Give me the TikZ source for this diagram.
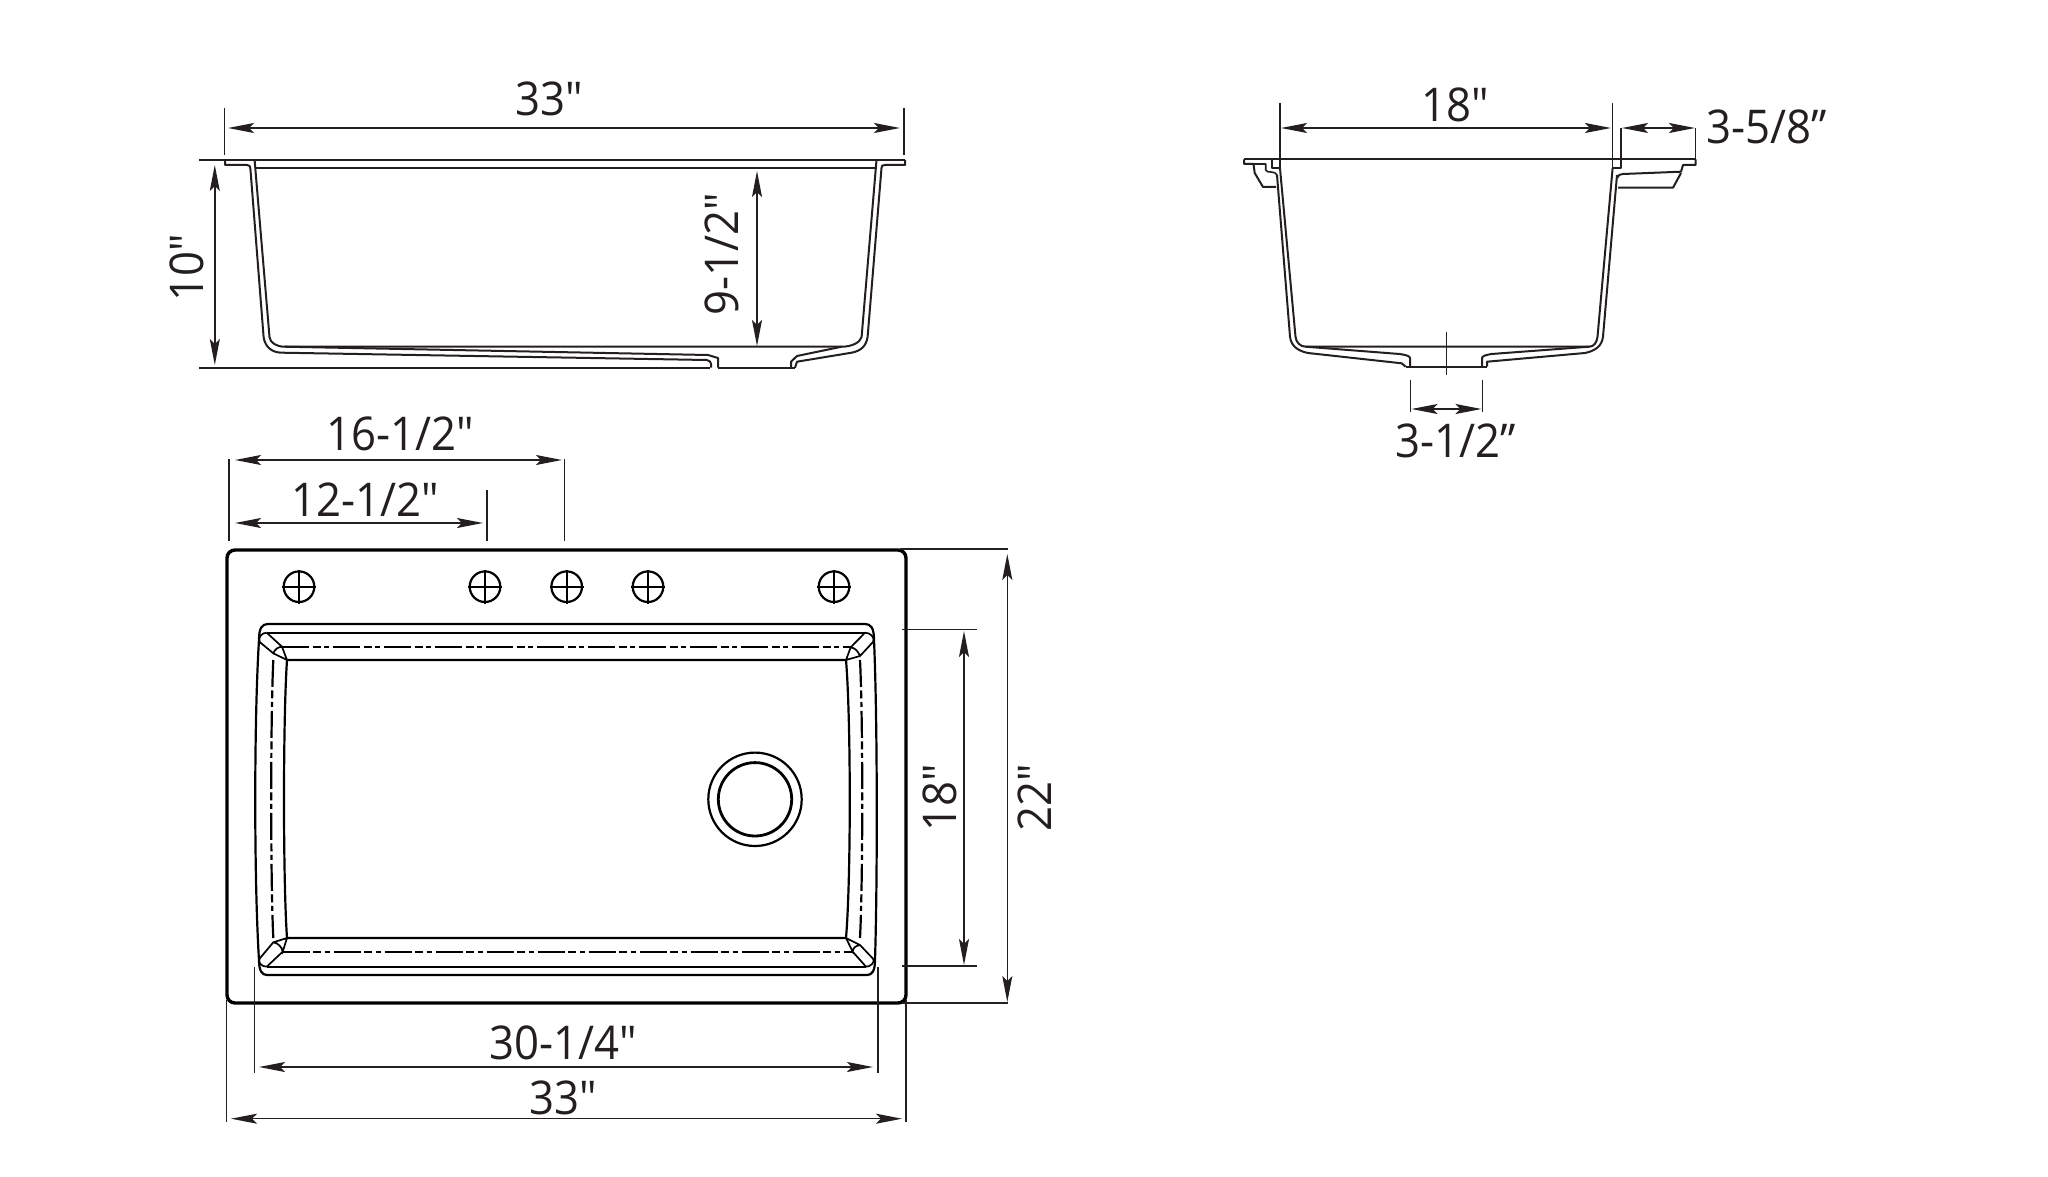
\documentclass[tikz,border=0pt]{standalone}
\usepackage{fontspec}
\setmainfont[FakeStretch=0.94]{Open Sans}
\usetikzlibrary{arrows.meta}
\definecolor{ink}{HTML}{231F20}
\tikzset{
  sinkline/.style={line width=2pt,draw=ink,line join=round},
  outline/.style={line width=3.4pt,draw=black},
  rimline/.style={line width=2.2pt,draw=black},
  thinrim/.style={line width=1.7pt,draw=black},
  centre/.style={line width=2.2pt,draw=black,dash pattern=on 27pt off 3.5pt on 8pt off 3.5pt on 5pt off 4pt},
  dimline/.style={line width=1.5pt,draw=ink,{Stealth[length=26pt,width=10pt,inset=5pt]}-{Stealth[length=26pt,width=10pt,inset=5pt]}},
  extline/.style={line width=1.5pt,draw=ink},
  lab/.style={font=\fontsize{46.5}{46.5}\selectfont,text=ink,inner sep=0pt},
  hole/.style={line width=2.2pt,draw=black},
}
\newcommand{\myhole}[3]{%
  \coordinate (#1) at (#2,#3);
  \draw[hole] (#1) circle (15.3pt);
  \draw[line width=1.7pt] (#2-17,#3) -- (#2+17,#3) (#2,#3-17) -- (#2,#3+17);
}
\begin{document}
\begin{tikzpicture}[x=1pt,y=-1pt]
\useasboundingbox (0,0) rectangle (2048,1177);
\fill[white] (0,0) rectangle (2048,1177);

% ---------- front section ----------
\draw[sinkline] (199,160) -- (905,160);
\draw[sinkline] (255,167.7) -- (876,167.7);
\draw[sinkline] (225,160) -- (225,165) -- (247,165) .. controls (250,165) and (250,166) .. (250.5,170)
  -- (263.6,337) .. controls (265,347) and (272,352.7) .. (282,352.7)
  -- (707,360) .. controls (710,361) and (711,362) .. (711,364) -- (711,367.7);
\draw[sinkline] (254.6,160) -- (269.5,337) .. controls (270,343) and (277,346.7) .. (284.5,346.7)
  -- (708,355) -- (718,358) -- (718,367.7);
\draw[sinkline] (284.5,346.7) -- (841.7,346.7) .. controls (851,346.7) and (860,343) .. (861.6,337) -- (876.5,160);
\draw[sinkline] (905,160) -- (905,165) -- (885,165) .. controls (882,165) and (881.5,166) .. (881.5,168)
  -- (867.6,337) .. controls (866,347) and (860,351) .. (851.6,352.7) -- (797,361.7) -- (795,367.7);
\draw[sinkline] (841.7,346.7) -- (797,356) -- (791,361.7) -- (791,367.7);
\draw[sinkline] (199,367.7) -- (710,367.7) (718,367.7) -- (795,367.7);

% ---------- side section ----------
\draw[sinkline] (1244,159.3) -- (1695.5,159.3);
\draw[sinkline] (1244,159.3) -- (1244,164) -- (1253.5,164) -- (1254.7,173) -- (1263,187) -- (1276,187);
\draw[sinkline,line width=1.6pt] (1253.5,164) -- (1265.7,164) -- (1265.7,170) .. controls (1266,172) and (1269,172) .. (1271,172) .. controls (1274,172) and (1276,173) .. (1277,175);
\draw[sinkline,line width=1.6pt] (1272,160) -- (1272,168.3) -- (1280,168.3) -- (1280,160);
\draw[sinkline,line width=1.6pt] (1612.6,160) -- (1612.6,168.3) -- (1621,168.3) -- (1621,160);
\draw[sinkline] (1277,175) -- (1290,336.7) .. controls (1291,346) and (1298,351) .. (1308,353)
  -- (1401.6,363.3) -- (1405.7,366.7);
\draw[sinkline] (1280,168.3) -- (1295.5,336.7) .. controls (1296,342) and (1300,346.7) .. (1305.7,346.7)
  -- (1399.6,354) .. controls (1406,355) and (1410,356) .. (1410,358) -- (1410,366.7);
\draw[sinkline] (1305.7,346.7) -- (1589.4,346.7) .. controls (1594,346.7) and (1597,342) .. (1597.5,336.7) -- (1612.6,168.3);
\draw[sinkline] (1405.7,366.7) -- (1487,366.7);
\draw[sinkline] (1482,366.7) -- (1482,358) .. controls (1482,356) and (1486,355) .. (1491.4,354) -- (1589.4,346.7);
\draw[sinkline] (1487,366.7) -- (1487,361.7) -- (1585,353) .. controls (1595,351) and (1602,346) .. (1603,336.7) -- (1617,175);
\draw[sinkline] (1695.5,159.3) -- (1695.5,165) -- (1683,165) -- (1681,171.7) -- (1623,174) .. controls (1620,174) and (1618,175) .. (1617,178);
\draw[sinkline] (1681,173) -- (1673,187.7) -- (1618,187.7);
\draw[extline] (1446.5,331.7) -- (1446.5,375);

% ---------- plan ----------
\draw[outline,rounded corners=8pt] (227,550) rectangle (906,1003);
\myhole{h1}{299}{586.7}
\myhole{h2}{485}{586.7}
\myhole{h3}{566.7}{586.7}
\myhole{h4}{648}{586.7}
\myhole{h5}{834}{586.7}
\draw[rimline] (259,640) .. controls (259,628) and (262,624) .. (268,624) -- (865,624)
  .. controls (871,624) and (874,628) .. (874,640)
  .. controls (877.5,720) and (877.5,880) .. (875,960)
  .. controls (875,971) and (872,975) .. (867,975) -- (267,975)
  .. controls (262,975) and (259,971) .. (259,960)
  .. controls (254,880) and (254,720) .. (259,640);
\draw[thinrim] (266.7,632.7) -- (865,632.7);
\draw[thinrim] (266.7,966.7) -- (866,966.7);
\draw[rimline] (287,660) -- (846,660) .. controls (851,720) and (851,880) .. (846,938) -- (287,938)
  .. controls (283,880) and (283,720) .. (287,660);
\draw[centre] (282,647) -- (851,647);
\draw[centre] (282.7,952) -- (852.7,952);
\draw[centre] (273.3,660) .. controls (270.5,720) and (270.5,880) .. (273.3,938);
\draw[centre] (860,660) .. controls (863,720) and (863,880) .. (860,938);
% corners
\draw[thinrim] (266.7,632.7) -- (282,646.7) (259.3,641.7) -- (273.3,653.3) .. controls (275,649) and (278,647) .. (282,646.7) -- (287,660) (273.3,653.3) -- (287,660);
\draw[thinrim] (259.5,641.7) .. controls (258,637) and (262,632.7) .. (266.7,632.7);
\draw[thinrim] (865,632.7) -- (850.7,647.3) (873.3,641.7) -- (860,656) .. controls (858,651) and (855,648) .. (850.7,647.3) -- (846,660) (860,656) -- (846,660);
\draw[thinrim] (873.3,641.7) .. controls (875,637) and (870,632.7) .. (865,632.7);
\draw[thinrim] (266.7,966.7) -- (282.7,951.7) (259.3,959) -- (273.3,942.3) .. controls (278,943) and (282,947) .. (282.7,951.7) -- (287,938) (273.3,942.3) -- (287,938);
\draw[thinrim] (259.3,959) .. controls (258,963) and (262,966.7) .. (266.7,966.7);
\draw[thinrim] (866,966.7) -- (852.7,951.7) (873.3,959) -- (860,945) .. controls (855,946) and (853,948) .. (852.7,951.7) -- (846,938) (860,945) -- (846,938);
\draw[thinrim] (873.3,959) .. controls (875,963) and (870,966.7) .. (866,966.7);
% drain
\coordinate (drain) at (755,799.3);
\draw[rimline] (drain) circle (46.7pt);
\draw[line width=2.8pt] (drain) circle (36.7pt);

% ---------- dimensions: named end points ----------
\coordinate (a1) at (228,128);   \coordinate (a2) at (900,128);
\coordinate (b1) at (214.8,165); \coordinate (b2) at (214.8,365);
\coordinate (c1) at (757,171);   \coordinate (c2) at (757,346);
\coordinate (d1) at (1281,128);  \coordinate (d2) at (1611,128);
\coordinate (e1) at (1622,128);  \coordinate (e2) at (1695,128);
\coordinate (f1) at (1411.5,409);\coordinate (f2) at (1481.5,409);
\coordinate (g1) at (235,460);   \coordinate (g2) at (562,460);
\coordinate (i1) at (235,523);   \coordinate (i2) at (483,523);
\coordinate (j1) at (259,1067);  \coordinate (j2) at (873,1067);
\coordinate (k1) at (231,1118.7);\coordinate (k2) at (902,1118.7);
\coordinate (m1) at (964,631);   \coordinate (m2) at (964,965);
\coordinate (n1) at (1007.3,554);\coordinate (n2) at (1007.3,1002);
\foreach \p in {a,b,c,d,e,f,g,i,j,k,m,n} \draw[dimline] (\p1) -- (\p2);

% extension lines
\draw[extline] (224.5,108) -- (224.5,155) (904,108) -- (904,155);
\draw[extline] (1280,103) -- (1280,160) (1612.6,103) -- (1612.6,160);
\draw[extline] (1621,128) -- (1621,160) (1695.5,128) -- (1695.5,165);
\draw[extline] (1410.6,380) -- (1410.6,412) (1482.4,380) -- (1482.4,412);
\draw[extline] (229,459) -- (229,540.7) (564.7,459) -- (564.7,540.7) (487,490) -- (487,540.7);
\draw[extline] (254.7,967) -- (254.7,1072.7) (878,967) -- (878,1072.7);
\draw[extline] (226.5,1000) -- (226.5,1121.7) (906,1000) -- (906,1121.7);
\draw[extline] (900,549) -- (1008,549) (902,1003) -- (1008,1003);
\draw[extline] (902,629.3) -- (977,629.3) (901.7,966) -- (977,966);

% labels
\node[lab] (t33a) at (549,99) {33″};
\node[lab,rotate=90] (t10) at (187,268) {10″};
\node[lab,rotate=90] (t912) at (722,254) {9-1/2″};
\node[lab] (t18a) at (1455,105) {18″};
\node[lab] (t358) at (1767,127) {3-5/8"};
\node[lab] (t312) at (1456,441) {3-1/2"};
\node[lab] (t1612) at (400,434) {16-1/2″};
\node[lab] (t1212) at (365,500) {12-1/2″};
\node[lab] (t3014) at (563,1043) {30-1/4″};
\node[lab] (t33b) at (563,1098) {33″};
\node[lab,rotate=90] (t18b) at (940,797.5) {18″};
\node[lab,rotate=90] (t22) at (1035,798) {22″};
\end{tikzpicture}
\end{document}
